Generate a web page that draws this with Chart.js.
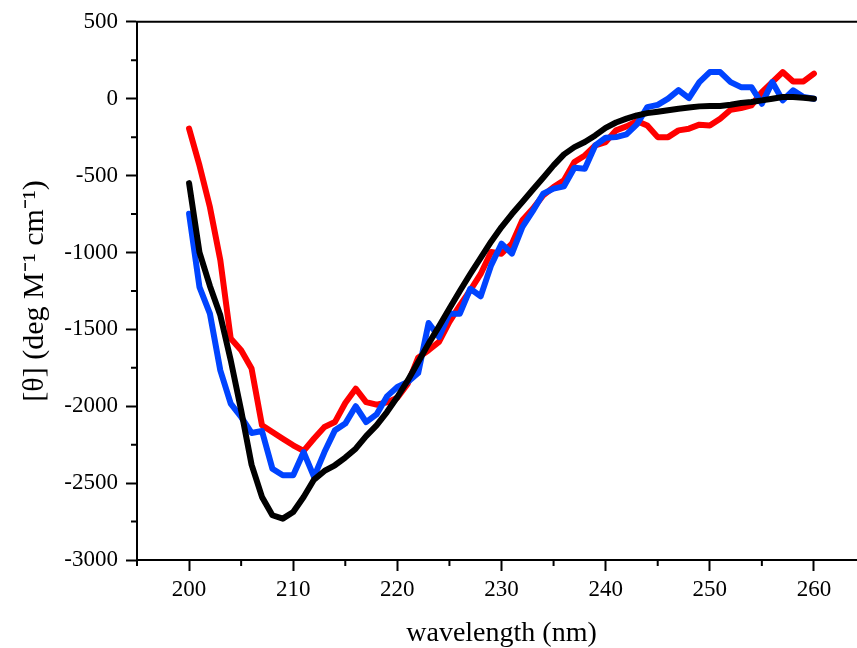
<!DOCTYPE html>
<html><head><meta charset="utf-8">
<script src="https://cdn.jsdelivr.net/npm/chart.js@4.4.1/dist/chart.umd.min.js"></script>
<style>html,body{margin:0;padding:0;background:#fff;overflow:hidden;width:857px;height:648px}canvas{display:block}</style>
</head><body><canvas id="c" width="900" height="648"></canvas>
<script>
const wavelength = [200,201,202,203,204,205,206,207,208,209,210,211,212,213,214,215,216,217,218,219,220,221,222,223,224,225,226,227,228,229,230,231,232,233,234,235,236,237,238,239,240,241,242,243,244,245,246,247,248,249,250,251,252,253,254,255,256,257,258,259,260];
const redSeries = [-195,-434,-705,-1050,-1560,-1636,-1755,-2124,-2167,-2211,-2254,-2290,-2210,-2135,-2103,-1979,-1886,-1973,-1990,-1975,-1945,-1853,-1684,-1636,-1582,-1452,-1344,-1246,-1140,-997,-1008,-943,-791,-716,-629,-575,-531,-412,-369,-304,-282,-206,-180,-146,-174,-250,-250,-206,-195,-169,-174,-130,-72,-61,-44,43,108,173,112,112,163];
const blueSeries = [-748,-1225,-1398,-1767,-1983,-2070,-2174,-2161,-2406,-2449,-2449,-2298,-2460,-2298,-2157,-2113,-2000,-2103,-2053,-1936,-1875,-1842,-1784,-1459,-1550,-1398,-1398,-1236,-1285,-1084,-943,-1008,-835,-731,-618,-585,-570,-449,-455,-304,-254,-250,-232,-167,-55,-40,0,56,4,108,173,173,108,75,75,-33,108,-11,54,11,0];
const blackSeries = [-549,-1000,-1218,-1409,-1701,-2027,-2380,-2590,-2709,-2731,-2688,-2590,-2477,-2421,-2384,-2334,-2276,-2194,-2124,-2038,-1940,-1832,-1713,-1593,-1481,-1365,-1250,-1140,-1035,-930,-835,-750,-672,-592,-514,-434,-362,-315,-282,-239,-190,-155,-130,-109,-94,-85,-75,-65,-58,-50,-48,-48,-39,-28,-22,-11,0,11,11,6,0];
const xMajorTicks = [200,210,220,230,240,250,260];
const xMinorTicks = [195,205,215,225,235,245,255,265];
const yMajorTicks = [-3000,-2500,-2000,-1500,-1000,-500,0,500];
const yMinorTicks = [-2750,-2250,-1750,-1250,-750,-250,250];
const xTitle = 'wavelength (nm)';
const yTitle = '[θ] (deg M⁻¹ cm⁻¹)';

const pts = arr => wavelength.map((w,i)=>({x:w,y:arr[i]}));

const frameAndMinor = {
  id:'frameAndMinor',
  afterDraw(chart){
    const {ctx, chartArea:a, scales:{x,y}} = chart;
    ctx.save();
    ctx.strokeStyle='#000'; ctx.lineWidth=2;
    ctx.beginPath();
    xMinorTicks.forEach(v=>{const px=x.getPixelForValue(v); ctx.moveTo(px,a.bottom); ctx.lineTo(px,a.bottom+6);});
    yMinorTicks.forEach(v=>{const py=y.getPixelForValue(v); ctx.moveTo(a.left,py); ctx.lineTo(a.left-6,py);});
    ctx.moveTo(a.left-1,a.top); ctx.lineTo(a.right,a.top);
    ctx.stroke();
    ctx.restore();
  }
};

const serif = 'Liberation Serif';
new Chart(document.getElementById('c'), {
  type:'line',
  data:{datasets:[
    {data:pts(blackSeries), borderColor:'#000000'},
    {data:pts(blueSeries), borderColor:'#0044FF'},
    {data:pts(redSeries), borderColor:'#FF0000'}
  ]},
  options:{
    responsive:false, animation:false, devicePixelRatio:1,
    layout:{padding:{left:0,top:21,right:34,bottom:0}},
    plugins:{legend:{display:false}, tooltip:{enabled:false}},
    elements:{point:{radius:0}, line:{borderWidth:6, tension:0, borderCapStyle:'round', borderJoinStyle:'round', fill:false}},
    scales:{
      x:{type:'linear', min:195, max:265,
        afterBuildTicks:s=>{s.ticks = xMajorTicks.map(v=>({value:v}));},
        afterFit:s=>{s.height=88;},
        grid:{drawOnChartArea:false, tickLength:11, tickWidth:2, tickColor:'#000'},
        border:{display:true, color:'#000', width:2},
        ticks:{color:'#000', font:{family:serif,size:23}, padding:5, maxRotation:0, autoSkip:false, callback:v=>String(v)},
        title:{display:true, text:xTitle, color:'#000', font:{family:serif,size:28}, padding:{top:0,bottom:-2}}
      },
      y:{type:'linear', min:-3000, max:500,
        afterBuildTicks:s=>{s.ticks = yMajorTicks.map(v=>({value:v}));},
        afterFit:s=>{s.width=137;},
        grid:{drawOnChartArea:false, tickLength:11, tickWidth:2, tickColor:'#000'},
        border:{display:true, color:'#000', width:2},
        ticks:{color:'#000', font:{family:serif,size:23}, padding:8, autoSkip:false, callback:v=>String(v)},
        title:{display:true, text:yTitle, color:'#000', font:{family:serif,size:30}, padding:{top:17,bottom:0}}
      }
    }
  },
  plugins:[frameAndMinor]
});
</script></body></html>
